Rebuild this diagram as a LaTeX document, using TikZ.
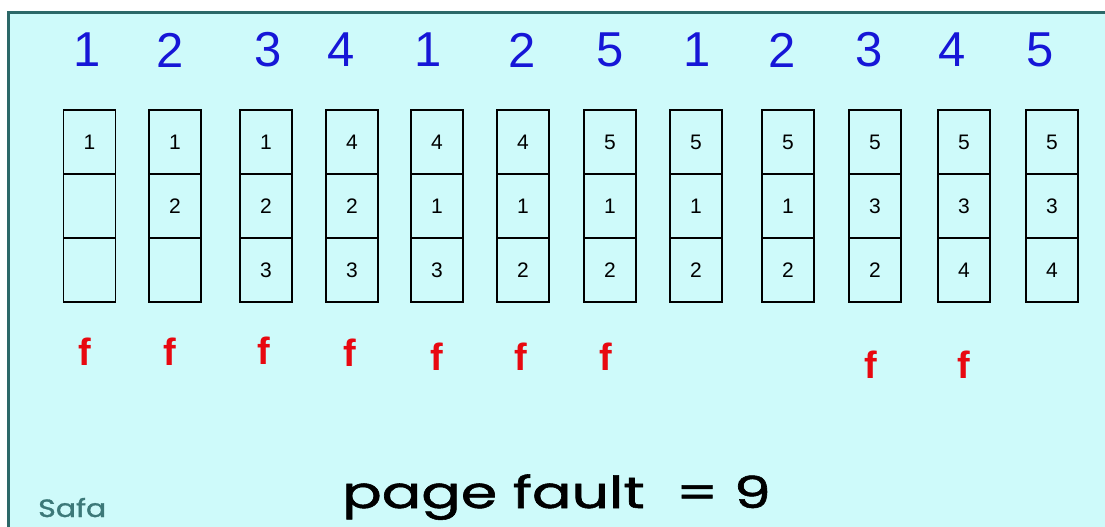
\documentclass[tikz,border=0pt]{standalone}
\usepackage{graphicx}
\usepackage{fontspec}
\setmainfont{Liberation Sans}
\newfontfamily\handfont[FakeBold=1.2]{Poppins}
\usetikzlibrary{positioning}

\definecolor{bgcyan}{RGB}{206,250,250}
\definecolor{frameteal}{RGB}{44,104,104}
\definecolor{refblue}{RGB}{22,22,215}
\definecolor{faultred}{RGB}{232,8,16}
\definecolor{signteal}{RGB}{60,120,120}

\begin{document}
\begin{tikzpicture}[x=1pt, y=-1pt,
    refnum/.style={text=refblue, inner sep=0pt, font=\fontsize{49}{49}\selectfont},
    cell/.style={draw, line width=1.8pt, minimum width=52pt, minimum height=64pt,
                 inner sep=0pt, outer sep=0pt, font=\fontsize{21}{21}\selectfont},
    fault/.style={text=faultred, inner sep=0pt, font=\fontsize{38}{38}\selectfont\bfseries}]

    % frame and background
    \useasboundingbox (0,0) rectangle (1105,527);
    \fill[white] (0,0) rectangle (1105,527);
    \fill[bgcyan] (8,12) rectangle (1105,527);
    \draw[frameteal, line width=3pt] (8.5,527) -- (8.5,12.5) -- (1105,12.5);

    % reference string
    \foreach \i/\x/\r in {1/87/1, 2/170/2, 3/268/3, 4/341/4, 5/428/1, 6/522/2,
                          7/610/5, 8/697/1, 9/782/2, 10/869/3, 11/952/4, 12/1040/5}
        \node[refnum] (r\i) at (\x,50) {\r};

    % frames after each reference
    \foreach \i/\x/\a/\b/\c in {1/89.5/1/{}/{}, 2/175/1/2/{}, 3/266/1/2/3, 4/352/4/2/3,
                                5/437/4/1/3, 6/523/4/1/2, 7/610/5/1/2, 8/696/5/1/2,
                                9/788/5/1/2, 10/875/5/3/2, 11/964/5/3/4, 12/1052/5/3/4} {
        \node[cell] (c\i-1) at (\x,142) {\a};
        \node[cell, below=0pt of c\i-1] (c\i-2) {\b};
        \node[cell, below=0pt of c\i-2] (c\i-3) {\c};
    }

    % page faults
    \foreach \i/\x/\y in {1/85/352, 2/170/352, 3/264/351, 4/350/353, 5/437/357,
                          6/521/357, 7/606/357, 10/871/365, 11/964/365}
        \node[fault] (f\i) at (\x,\y) {f};

    \node[anchor=base west, inner sep=0pt, font=\handfont\fontsize{44}{44}\selectfont] (total) at (342,508)
        {\scalebox{1.33}[1]{page fault\ \ = 9}};
    \node[anchor=base west, inner sep=0pt, text=signteal, font=\handfont\fontsize{25}{25}\selectfont] (sign) at (38,517)
        {\scalebox{1.2}[1]{Safa}};
\end{tikzpicture}
\end{document}
